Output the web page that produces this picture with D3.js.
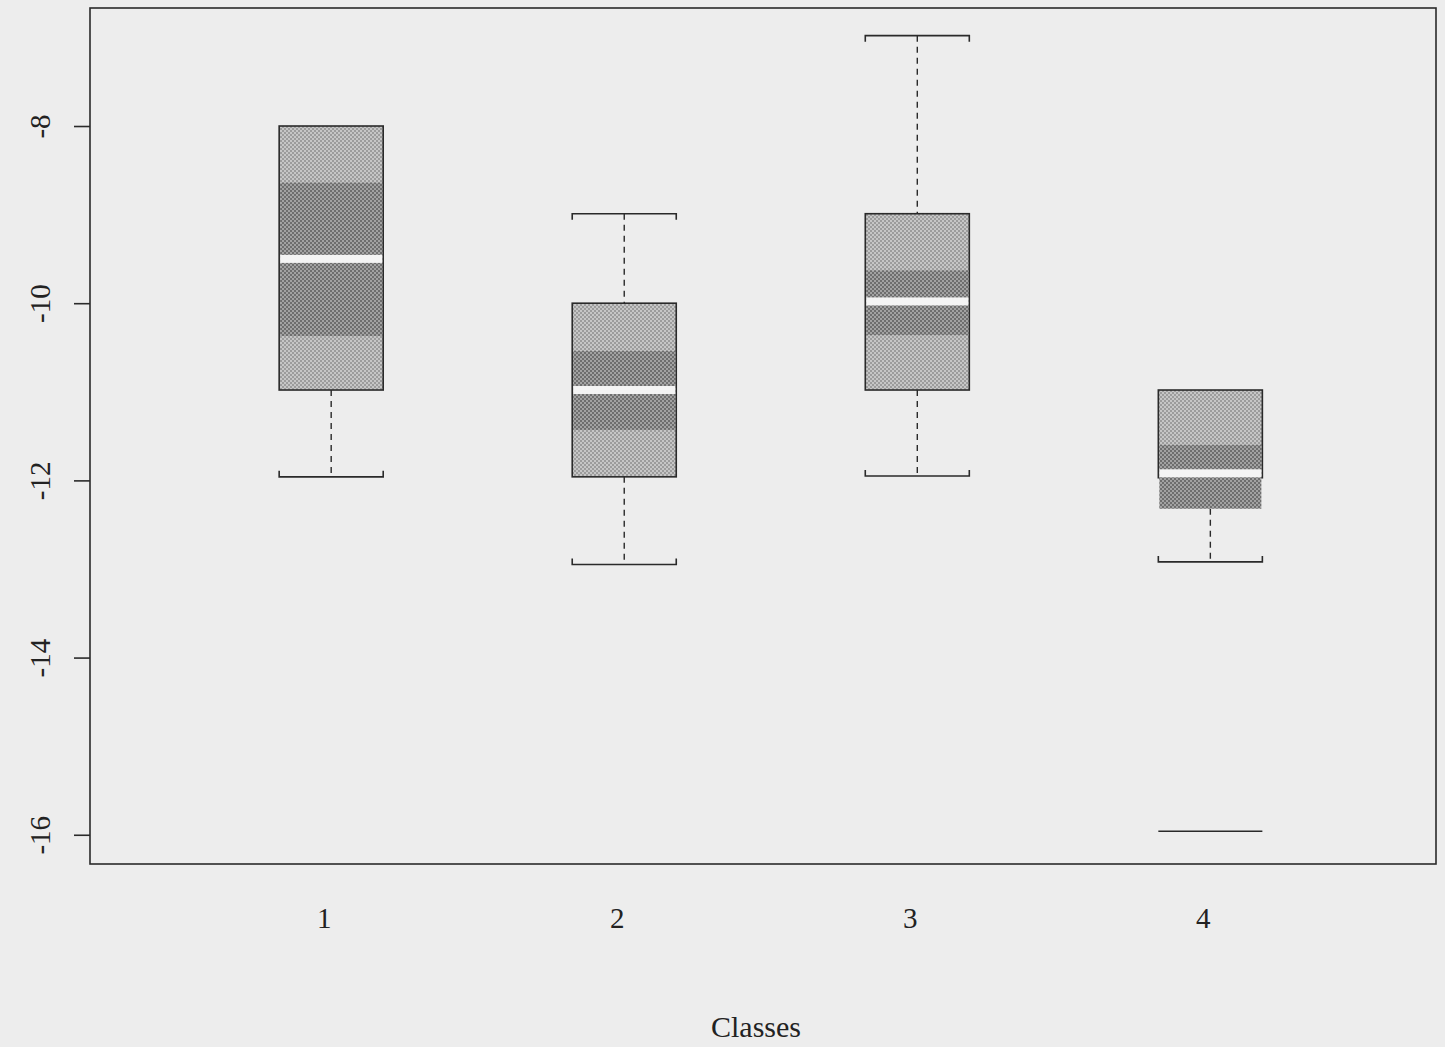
<!DOCTYPE html>
<html>
<head>
<meta charset="utf-8">
<script src="https://cdn.jsdelivr.net/npm/d3@7"></script>
<style>
  body { margin: 0; background: #ededed; }
  svg { display: block; }
  text { font-family: "Liberation Serif", "DejaVu Serif", serif; fill: #222; }
</style>
</head>
<body>
<svg class="chart"></svg>
<script>
// data
var classes = [1, 2, 3, 4];
var upperWhisker = [-8.0, -8.99, -6.98, -10.98];
var upperHinge  = [-8.0, -10.0, -8.99, -10.98];
var notchTop    = [-8.64, -10.54, -9.63, -11.60];
var medians     = [-9.50, -10.98, -9.98, -11.92];
var notchBottom = [-10.37, -11.43, -10.36, -12.32];
var lowerHinge  = [-10.98, -11.96, -10.98, -11.97];
var lowerWhisker = [-11.96, -12.95, -11.95, -12.92];
var outliers = [{cls: 4, value: -15.96}];
var yTicks = [-8, -10, -12, -14, -16];

var W = 1445, H = 1047;
var plotLeft = 90, plotRight = 1436, plotTop = 8, plotBottom = 864;
var boxW = 0.355;

var chart = d3.select('.chart').attr('width', W).attr('height', H);

var x = d3.scaleLinear().domain([0.177, 4.77]).range([plotLeft, plotRight]);
var y = d3.scaleLinear().domain([-16.33, -6.668]).range([plotBottom, plotTop]);

var ink = '#2a2a2a';

// stipple patterns like the printed shading
var defs = chart.append('defs');
function stipple(id, a, b){
	var p = defs.append('pattern').attr('id', id)
		.attr('width', 4).attr('height', 4).attr('patternUnits', 'userSpaceOnUse');
	p.append('rect').attr('width', 4).attr('height', 4).attr('fill', a);
	p.append('rect').attr('width', 2).attr('height', 2).attr('fill', b);
	p.append('rect').attr('x', 2).attr('y', 2).attr('width', 2).attr('height', 2).attr('fill', b);
}
stipple('light', '#c6c6c6', '#9c9c9c');
stipple('dark', '#a2a2a2', '#6e6e6e');

var boxes = classes.map(function(c, i){
	return {cls: c, uw: upperWhisker[i], q3: upperHinge[i], nt: notchTop[i], med: medians[i],
		nb: notchBottom[i], q1: lowerHinge[i], lw: lowerWhisker[i]};
});

var g = chart.append('g');

// whiskers (dashed)
g.selectAll('.whisk-up').data(boxes.filter(function(d){ return d.uw > d.q3; }))
	.enter().append('line')
	.attr('x1', function(d){ return x(d.cls); }).attr('x2', function(d){ return x(d.cls); })
	.attr('y1', function(d){ return y(d.uw); }).attr('y2', function(d){ return y(d.q3); })
	.attr('stroke', ink).attr('stroke-width', 1.4).attr('stroke-dasharray', '6,5');
g.selectAll('.whisk-down').data(boxes.filter(function(d){ return d.lw < Math.min(d.q1, d.nb); }))
	.enter().append('line')
	.attr('x1', function(d){ return x(d.cls); }).attr('x2', function(d){ return x(d.cls); })
	.attr('y1', function(d){ return y(Math.min(d.q1, d.nb)); }).attr('y2', function(d){ return y(d.lw); })
	.attr('stroke', ink).attr('stroke-width', 1.4).attr('stroke-dasharray', '6,5');

// caps with small upturned ends
function capPath(d, val, dir){
	var x0 = x(d.cls - boxW / 2), x1 = x(d.cls + boxW / 2), yy = y(val);
	return 'M' + x0 + ',' + (yy + dir * 6) + 'L' + x0 + ',' + yy + 'L' + x1 + ',' + yy + 'L' + x1 + ',' + (yy + dir * 6);
}
g.selectAll('.cap-up').data(boxes.filter(function(d){ return d.uw > d.q3; }))
	.enter().append('path')
	.attr('d', function(d){ return capPath(d, d.uw, 1); })
	.attr('fill', 'none').attr('stroke', ink).attr('stroke-width', 1.6);
g.selectAll('.cap-down').data(boxes)
	.enter().append('path')
	.attr('d', function(d){ return capPath(d, d.lw, -1); })
	.attr('fill', 'none').attr('stroke', ink).attr('stroke-width', 1.6);

// box body (light)
g.selectAll('.box').data(boxes).enter().append('rect')
	.attr('x', function(d){ return x(d.cls - boxW / 2); })
	.attr('width', function(d){ return x(d.cls + boxW / 2) - x(d.cls - boxW / 2); })
	.attr('y', function(d){ return y(d.q3); })
	.attr('height', function(d){ return y(d.q1) - y(d.q3); })
	.attr('fill', 'url(#light)').attr('stroke', ink).attr('stroke-width', 1.6);

// notch band (dark)
g.selectAll('.notch').data(boxes).enter().append('rect')
	.attr('x', function(d){ return x(d.cls - boxW / 2) + 1; })
	.attr('width', function(d){ return x(d.cls + boxW / 2) - x(d.cls - boxW / 2) - 2; })
	.attr('y', function(d){ return y(d.nt); })
	.attr('height', function(d){ return y(d.nb) - y(d.nt); })
	.attr('fill', 'url(#dark)');

// median (white bar)
g.selectAll('.median').data(boxes).enter().append('rect')
	.attr('x', function(d){ return x(d.cls - boxW / 2) + 1; })
	.attr('width', function(d){ return x(d.cls + boxW / 2) - x(d.cls - boxW / 2) - 2; })
	.attr('y', function(d){ return y(d.med) - 4; })
	.attr('height', 8)
	.attr('fill', '#f4f4f4');

// outliers drawn as lines
g.selectAll('.outlier').data(outliers).enter().append('line')
	.attr('x1', function(d){ return x(d.cls - boxW / 2); })
	.attr('x2', function(d){ return x(d.cls + boxW / 2); })
	.attr('y1', function(d){ return y(d.value); }).attr('y2', function(d){ return y(d.value); })
	.attr('stroke', ink).attr('stroke-width', 1.6);

// frame
chart.append('rect')
	.attr('x', plotLeft).attr('y', plotTop)
	.attr('width', plotRight - plotLeft).attr('height', plotBottom - plotTop)
	.attr('fill', 'none').attr('stroke', ink).attr('stroke-width', 1.6);

// y axis
var yAxis = d3.axisLeft(y).tickValues(yTicks).tickSize(16).tickFormat(function(d){ return String(d); });
var ya = chart.append('g').attr('transform', 'translate(' + plotLeft + ',0)').call(yAxis);
ya.select('.domain').remove();
ya.selectAll('.tick line').attr('stroke', ink).attr('stroke-width', 1.6);
ya.selectAll('.tick text')
	.attr('x', 0).attr('dy', null).attr('dx', null)
	.attr('transform', 'translate(-50,0) rotate(-90)')
	.attr('text-anchor', 'middle')
	.attr('dominant-baseline', 'central')
	.style('font-size', '29px')
	.style('font-family', '"Liberation Serif", serif')
	.attr('fill', '#222');

// x labels
chart.append('g').selectAll('text').data(classes).enter().append('text')
	.attr('x', function(d){ return x(d) - 7; })
	.attr('y', 928)
	.attr('text-anchor', 'middle')
	.style('font-size', '29px')
	.text(function(d){ return d; });

chart.append('text')
	.attr('x', 756).attr('y', 1037)
	.attr('text-anchor', 'middle')
	.style('font-size', '30px')
	.text('Classes');
</script>
</body>
</html>
